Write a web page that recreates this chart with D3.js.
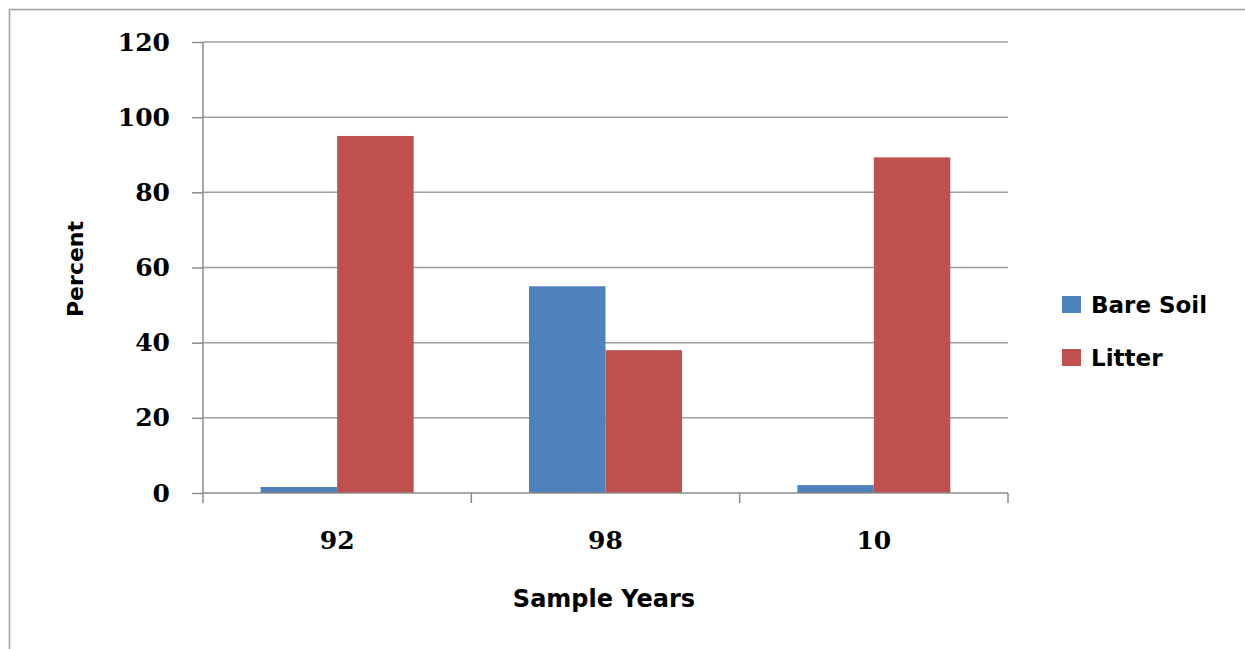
<!DOCTYPE html>
<html>
<head>
<meta charset="utf-8">
<script src="https://cdn.jsdelivr.net/npm/d3@7"></script>
<style>
  html, body { margin: 0; padding: 0; background: #fff; }
  svg { display: block; }
</style>
</head>
<body>
<svg id="chart" width="1245" height="649"></svg>
<script>
const categories = ["92", "98", "10"];
const seriesNames = ["Bare Soil", "Litter"];
const bareSoil = [1.6, 55, 2.1];
const litter = [95, 38, 89.3];
const yTicks = [0, 20, 40, 60, 80, 100, 120];
const colors = ["#4F81BD", "#C0504D"];

(function () {
const values = [bareSoil, litter];
const svg = d3.select("#chart");

// outer frame
svg.append("rect")
  .attr("x", 9.5).attr("y", 9.5)
  .attr("width", 1260).attr("height", 660)
  .attr("fill", "none").attr("stroke", "#a0a0a0").attr("stroke-width", 1.5);

const pLeft = 203, pRight = 1008, pTop = 42, pBottom = 493;

const y = d3.scaleLinear().domain([0, 120]).range([pBottom, pTop]);
const x0 = d3.scaleBand().domain(categories).range([pLeft, pRight]).padding(0);
const gap = x0.bandwidth() * 0.215;
const x1 = d3.scaleBand().domain(seriesNames).range([gap, x0.bandwidth() - gap]).padding(0);

// gridlines
svg.append("g")
  .selectAll("line")
  .data(yTicks.filter(d => d > 0))
  .join("line")
  .attr("x1", pLeft).attr("x2", pRight)
  .attr("y1", d => y(d)).attr("y2", d => y(d))
  .attr("stroke", "#a0a0a0").attr("stroke-width", 1.5);

// bars
const groups = svg.append("g").selectAll("g")
  .data(categories)
  .join("g")
  .attr("transform", d => `translate(${x0(d)},0)`);

groups.selectAll("rect")
  .data((d, i) => seriesNames.map((s, j) => ({ s, v: values[j][i], j })))
  .join("rect")
  .attr("x", d => x1(d.s))
  .attr("width", x1.bandwidth())
  .attr("y", d => y(d.v))
  .attr("height", d => y(0) - y(d.v))
  .attr("fill", d => colors[d.j]);

// y axis
const yAxis = svg.append("g")
  .attr("transform", `translate(${pLeft},0)`)
  .call(d3.axisLeft(y).tickValues(yTicks).tickSize(11).tickPadding(22).tickFormat(d3.format("d")));
yAxis.select(".domain").attr("stroke", "#8c8c8c").attr("stroke-width", 1.5).attr("d", `M0,${pTop}V${pBottom}`);
yAxis.selectAll(".tick line").attr("stroke", "#8c8c8c").attr("stroke-width", 1.5);
yAxis.selectAll(".tick text")
  .attr("font-family", "DejaVu Serif").attr("font-weight", "bold")
  .attr("font-size", 25).attr("fill", "#000");

// x axis
const xAxis = svg.append("g")
  .attr("transform", `translate(0,${pBottom})`)
  .call(d3.axisBottom(x0).tickSize(0).tickPadding(38));
xAxis.select(".domain").remove();
xAxis.append("line")
  .attr("x1", pLeft).attr("x2", pRight).attr("y1", 0).attr("y2", 0)
  .attr("stroke", "#8c8c8c").attr("stroke-width", 1.5);
xAxis.selectAll(".bound")
  .data([pLeft, pLeft + x0.bandwidth(), pLeft + 2 * x0.bandwidth(), pRight])
  .join("line")
  .attr("class", "bound")
  .attr("x1", d => d).attr("x2", d => d)
  .attr("y1", 0).attr("y2", 10)
  .attr("stroke", "#8c8c8c").attr("stroke-width", 1.5);
xAxis.selectAll(".tick text")
  .attr("font-family", "DejaVu Serif").attr("font-weight", "bold")
  .attr("font-size", 25).attr("fill", "#000");

// axis titles
svg.append("text")
  .attr("x", 604).attr("y", 607)
  .attr("text-anchor", "middle")
  .attr("font-family", "DejaVu Sans").attr("font-weight", "bold")
  .attr("font-size", 24).attr("fill", "#000")
  .text("Sample Years");

svg.append("text")
  .attr("transform", "translate(83,269) rotate(-90)")
  .attr("text-anchor", "middle")
  .attr("font-family", "DejaVu Sans").attr("font-weight", "bold")
  .attr("font-size", 22).attr("fill", "#000")
  .text("Percent");

// legend
const legend = svg.append("g").selectAll("g")
  .data(seriesNames)
  .join("g")
  .attr("transform", (d, i) => `translate(1062,${296 + i * 53})`);
legend.append("rect")
  .attr("width", 19).attr("height", 17)
  .attr("fill", (d, i) => colors[i]);
legend.append("text")
  .attr("x", 29).attr("y", 17)
  .attr("font-family", "DejaVu Sans").attr("font-weight", "bold")
  .attr("font-size", 23).attr("fill", "#000")
  .text(d => d);
})();
</script>
</body>
</html>
